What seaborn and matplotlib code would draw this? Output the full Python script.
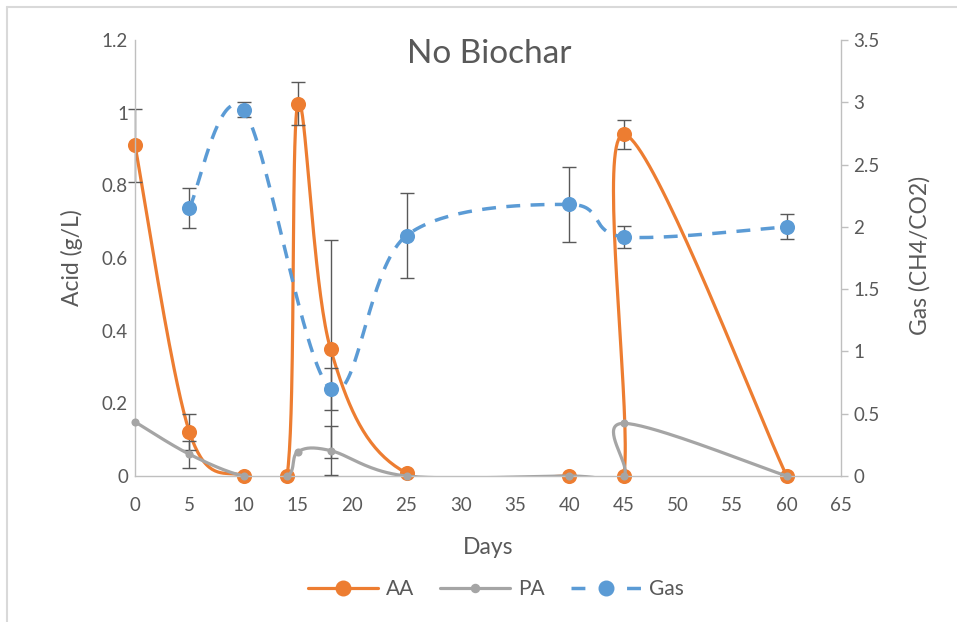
import numpy as np
import matplotlib
matplotlib.use("Agg")
import matplotlib.pyplot as plt
from matplotlib.lines import Line2D
import seaborn as sns

# Acid measurements (g/L) by day
days_acid = [0, 5, 10, 14, 15, 18, 25, 40, 45, 45, 60]
aa = [0.91, 0.122, 0, 0, 1.025, 0.35, 0.008, 0, 0, 0.94, 0]
aa_err = [0.10, 0.05, 0, 0, 0.06, 0.30, 0, 0, 0, 0.04, 0]
pa = [0.149, 0.06, 0, 0, 0.067, 0.07, 0, 0, 0, 0.145, 0]
pa_err = [0, 0.037, 0, 0, 0, 0.067, 0, 0, 0, 0, 0]

# Gas ratio CH4/CO2 by day
days_gas = [5, 10, 18, 25, 40, 45, 60]
gas = [2.15, 2.94, 0.70, 1.93, 2.18, 1.92, 2.0]
gas_err = [0.16, 0.06, 0.17, 0.34, 0.30, 0.09, 0.10]

x_ticks = list(range(0, 66, 5))
acid_ticks = [0, 0.2, 0.4, 0.6, 0.8, 1.0, 1.2]
acid_tick_labels = ["0", "0.2", "0.4", "0.6", "0.8", "1", "1.2"]
gas_ticks = [0, 0.5, 1, 1.5, 2, 2.5, 3, 3.5]
gas_tick_labels = ["0", "0.5", "1", "1.5", "2", "2.5", "3", "3.5"]

ORANGE = "#ED7D31"
GREY = "#A5A5A5"
BLUE = "#5B9BD5"
TEXT = "#595959"
AXIS = "#BFBFBF"
ERR = "#595959"


def smooth(xs, ys, n=40):
    """Parametric cubic Bezier smoothing through every point (Catmull-Rom tangents)."""
    p = np.column_stack([xs, ys]).astype(float)
    out = [p[0]]
    t = np.linspace(0, 1, n)[1:, None]
    for i in range(len(p) - 1):
        p0 = p[i - 1] if i > 0 else p[i]
        p1, p2 = p[i], p[i + 1]
        p3 = p[i + 2] if i + 2 < len(p) else p[i + 1]
        c1 = p1 + (p2 - p0) / 6.0
        c2 = p2 - (p3 - p1) / 6.0
        seg = ((1 - t) ** 3) * p1 + 3 * ((1 - t) ** 2) * t * c1 \
            + 3 * (1 - t) * t ** 2 * c2 + t ** 3 * p2
        out.extend(seg)
    return np.array(out)


sns.set_theme(style="white")
plt.rcParams["font.family"] = ["Lato", "DejaVu Sans"]

W, H = 957, 622
fig = plt.figure(figsize=(W / 100, H / 100), dpi=100)
fig.patch.set_facecolor("white")
ax = fig.add_axes([135 / W, 1 - 476 / H, (841 - 135) / W, (476 - 40) / H])
ax2 = ax.twinx()
ax2.set_position(ax.get_position())

ax.set_xlim(0, 65)
ax.set_ylim(0, 1.2)
ax2.set_ylim(0, 3.5)


def draw_series(axis, xs, ys, err, color, lw, ms, ls="-", z=2):
    curve = smooth(xs, ys)
    sns.lineplot(x=curve[:, 0], y=curve[:, 1], sort=False, estimator=None,
                 ax=axis, color=color, lw=lw, zorder=z)
    line = axis.lines[-1]
    line.set_linestyle(ls)
    line.set_solid_capstyle("round")
    ex = [x for x, e in zip(xs, err) if e > 0]
    ey = [y for y, e in zip(ys, err) if e > 0]
    ee = [e for e in err if e > 0]
    if ee:
        axis.errorbar(ex, ey, yerr=ee, fmt="none", ecolor=ERR, elinewidth=1.0,
                      capsize=4.7, capthick=1.0, zorder=z + 0.1, clip_on=False)
    sns.scatterplot(x=xs, y=ys, ax=axis, color=color, s=ms, linewidth=0,
                    zorder=z + 0.2, clip_on=False, legend=False)


draw_series(ax, days_acid, aa, aa_err, ORANGE, 2.3, 118, z=2)
draw_series(ax, days_acid, pa, pa_err, GREY, 2.3, 34, z=3)
draw_series(ax2, days_gas, gas, gas_err, BLUE, 2.5, 118, ls=(0, (4, 3)), z=2)

# Axes styling
ax.set_xticks(x_ticks)
ax.set_xticklabels([str(v) for v in x_ticks])
ax.set_yticks(acid_ticks)
ax.set_yticklabels(acid_tick_labels)
ax2.set_yticks(gas_ticks)
ax2.set_yticklabels(gas_tick_labels)

ax.tick_params(axis="x", length=0, pad=15, labelsize=13.5, labelcolor=TEXT)
ax.tick_params(axis="y", length=0, pad=5, labelsize=13.5, labelcolor=TEXT)
ax2.tick_params(axis="y", length=5, width=1, color=AXIS, direction="out",
                pad=4, labelsize=13.5, labelcolor=TEXT)

for s in ["top", "right"]:
    ax.spines[s].set_visible(False)
for s in ["left", "bottom"]:
    ax.spines[s].set_color(AXIS)
    ax.spines[s].set_linewidth(1)
for s in ["top", "left", "bottom"]:
    ax2.spines[s].set_visible(False)
ax2.spines["right"].set_color(AXIS)
ax2.spines["right"].set_linewidth(1)
ax.grid(False)
ax2.grid(False)

ax.set_xlabel("Days", fontsize=16.5, color=TEXT)
ax.xaxis.label.set_va("center")
ax.xaxis.set_label_coords(0.5, -(547 - 476) / 436)
ax.set_ylabel("Acid (g/L)", fontsize=16.5, color=TEXT)
ax.yaxis.label.set_va("center")
ax.yaxis.set_label_coords((72 - 135) / 706, 0.5)
ax2.set_ylabel("Gas (CH4/CO2)", fontsize=16.5, color=TEXT)
ax2.yaxis.label.set_va("center")
ax2.yaxis.set_label_coords((920 - 135) / 706, 0.505)

fig.text(489 / W, 1 - 54 / H, "No Biochar", fontsize=24, color=TEXT,
         ha="center", va="center")

handles = [
    Line2D([], [], color=ORANGE, lw=2.3, marker="o", markersize=10.5),
    Line2D([], [], color=GREY, lw=2.3, marker="o", markersize=5.8),
    Line2D([], [], color=BLUE, lw=2.5, ls=(0, (4, 12, 4, 100)), marker="o",
           markersize=10.5),
]
fig.legend(handles, ["AA", "PA", "Gas"], loc="center",
           bbox_to_anchor=(496 / W, 1 - 589 / H), ncol=3, frameon=False,
           fontsize=15, labelcolor=TEXT, handlelength=3.35,
           handletextpad=0.4, columnspacing=1.25)

# Chart frame edges
fig.add_artist(Line2D([7 / W, 1], [1 - 7 / H, 1 - 7 / H], transform=fig.transFigure,
                      color="#D9D9D9", lw=1.5))
fig.add_artist(Line2D([7 / W, 7 / W], [0, 1 - 7 / H], transform=fig.transFigure,
                      color="#D9D9D9", lw=1.5))

fig.savefig("out.png", dpi=100, facecolor="white")
